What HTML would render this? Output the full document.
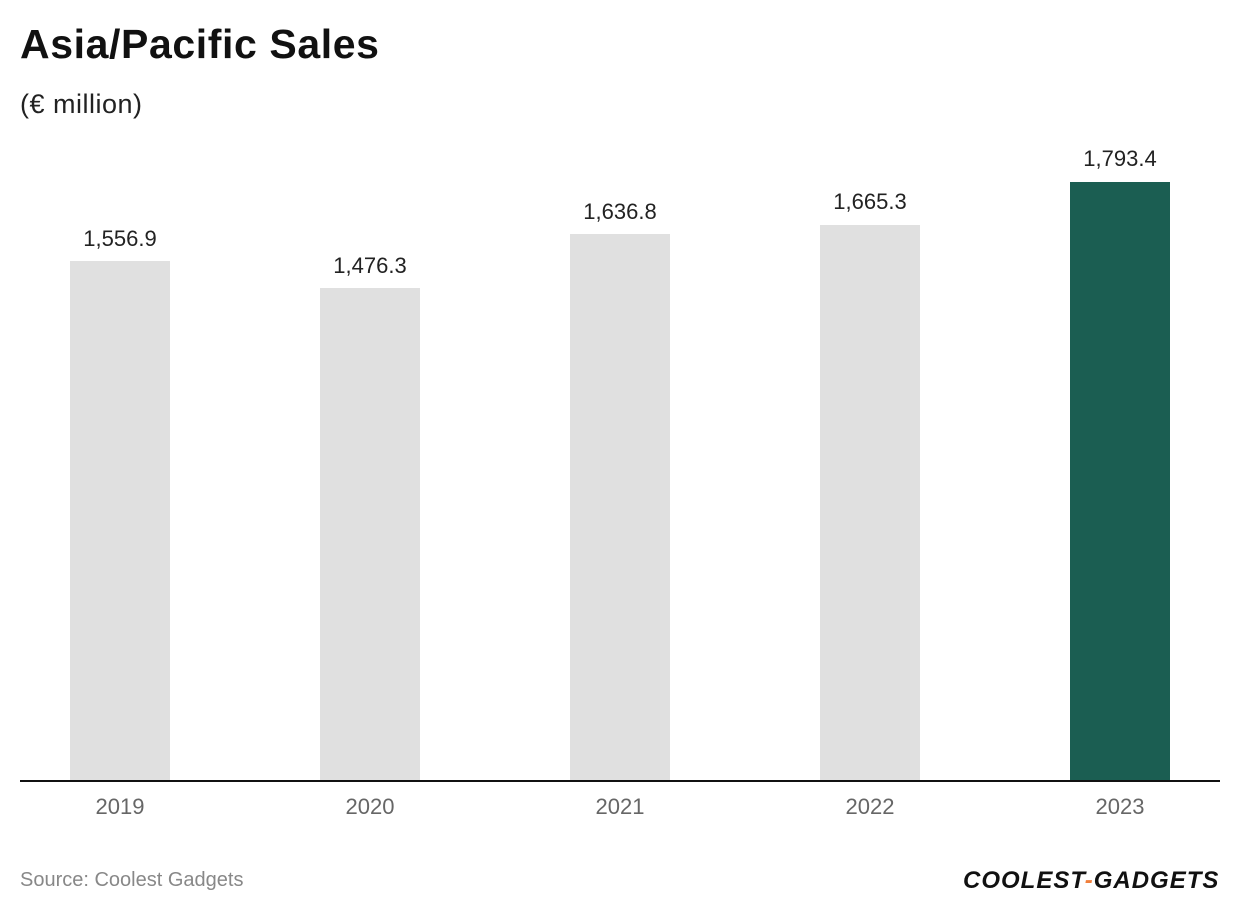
<!DOCTYPE html>
<html><head><style>
body{margin:0;width:1240px;height:914px;background:#fff;font-family:"Liberation Sans",sans-serif;position:relative;overflow:hidden}
.a{position:absolute;white-space:nowrap}
.bar{position:absolute;width:100px;background:#e0e0e0}
.v{position:absolute;width:200px;text-align:center;font-size:22px;color:#222}
.y{position:absolute;width:200px;text-align:center;font-size:22px;color:#666;top:794px}
</style></head><body>
<div class="a" style="left:20px;top:21px;font-size:41px;font-weight:bold;color:#111;letter-spacing:0.6px">Asia/Pacific Sales</div>
<div class="a" style="left:20px;top:89px;font-size:27px;color:#222;letter-spacing:0.5px">(€ million)</div>

<div class="bar" style="left:70px;top:261px;height:520px"></div>
<div class="bar" style="left:320px;top:288px;height:493px"></div>
<div class="bar" style="left:570px;top:234px;height:547px"></div>
<div class="bar" style="left:820px;top:225px;height:556px"></div>
<div class="bar" style="left:1070px;top:182px;height:599px;background:#1b5e52"></div>

<div class="v" style="left:20px;top:226px">1,556.9</div>
<div class="v" style="left:270px;top:253px">1,476.3</div>
<div class="v" style="left:520px;top:199px">1,636.8</div>
<div class="v" style="left:770px;top:189px">1,665.3</div>
<div class="v" style="left:1020px;top:146px">1,793.4</div>

<div class="a" style="left:20px;top:780px;width:1200px;height:2px;background:#111"></div>

<div class="y" style="left:20px">2019</div>
<div class="y" style="left:270px">2020</div>
<div class="y" style="left:520px">2021</div>
<div class="y" style="left:770px">2022</div>
<div class="y" style="left:1020px">2023</div>

<div class="a" style="left:20px;top:869px;font-size:20px;color:#888">Source: Coolest Gadgets</div>
<div class="a" style="left:963px;top:867px;font-size:24px;font-weight:bold;font-style:italic;color:#111;letter-spacing:1px">COOLEST<span style="color:#f07f3c">-</span>GADGETS</div>
</body></html>
